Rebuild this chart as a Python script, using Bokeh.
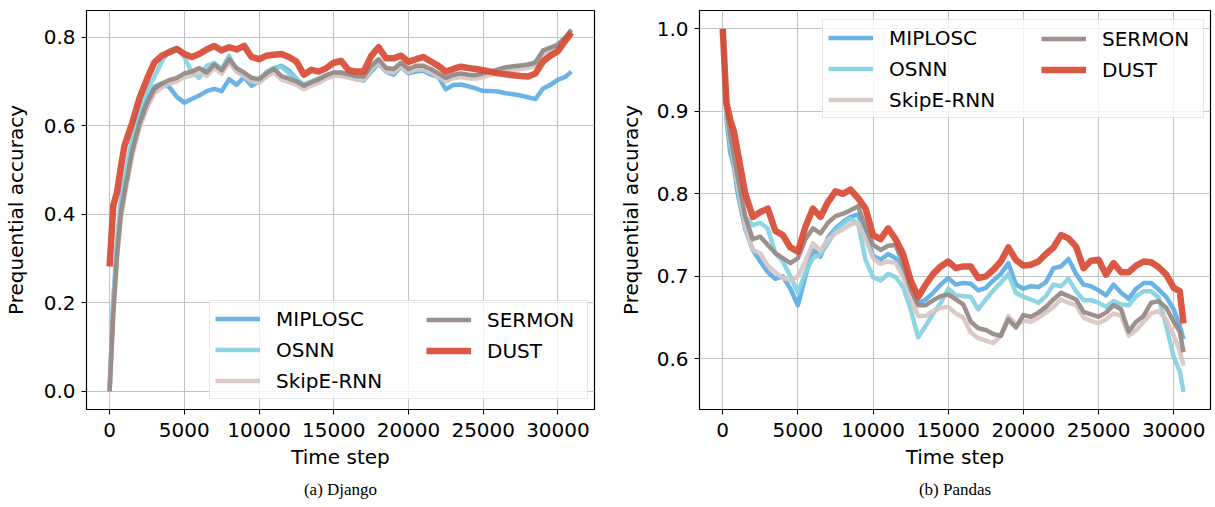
from bokeh.plotting import figure
from bokeh.models import Legend, LegendItem, FixedTicker, PrintfTickFormatter, Range1d, Title
from bokeh.layouts import row
from bokeh.embed import file_html
from bokeh.resources import INLINE

# ---------------- data ----------------
methods = ["MIPLOSC", "OSNN", "SkipE-RNN", "SERMON", "DUST"]
colors = ["#5dade2", "#85d2e3", "#d8c6c3", "#958884", "#d74a34"]

t_django = [0, 250, 500, 750, 1000, 1500, 2000, 2500, 3000, 3500, 4000, 4500, 5000,
            5500, 6000, 6500, 7000, 7500, 8000, 8500, 9000, 9500, 10000, 10500, 11000,
            11500, 12000, 12500, 13000, 13500, 14000, 14500, 15000, 15500, 16000, 16500,
            17000, 17500, 18000, 18500, 19000, 19500, 20000, 20500, 21000, 21500, 22000,
            22500, 23000, 23500, 24000, 24500, 25000, 25500, 26000, 26500, 27000, 27500,
            28000, 28500, 29000, 29500, 30000, 30500, 30900]

django_miplosc = [0.0, 0.20, 0.33, 0.42, 0.47, 0.555, 0.615, 0.66, 0.688, 0.695, 0.687, 0.665, 0.652,
                  0.660, 0.668, 0.678, 0.683, 0.678, 0.705, 0.692, 0.710, 0.690, 0.700, 0.720, 0.730,
                  0.735, 0.724, 0.706, 0.690, 0.697, 0.705, 0.712, 0.718, 0.714, 0.711, 0.705,
                  0.702, 0.722, 0.740, 0.722, 0.715, 0.733, 0.718, 0.722, 0.724, 0.715, 0.710,
                  0.682, 0.692, 0.693, 0.689, 0.684, 0.678, 0.678, 0.677, 0.673, 0.671, 0.668,
                  0.664, 0.660, 0.684, 0.692, 0.704, 0.710, 0.722]
django_osnn = [0.0, 0.21, 0.34, 0.43, 0.48, 0.57, 0.64, 0.68, 0.71, 0.745, 0.77, 0.775, 0.755,
               0.720, 0.708, 0.735, 0.742, 0.728, 0.758, 0.722, 0.712, 0.705, 0.698, 0.722, 0.730,
               0.733, 0.718, 0.705, 0.694, 0.700, 0.706, 0.714, 0.720, 0.718, 0.714, 0.708,
               0.706, 0.728, 0.745, 0.726, 0.722, 0.738, 0.724, 0.730, 0.730, 0.722, 0.714,
               0.704, 0.712, 0.716, 0.714, 0.712, 0.716, 0.720, 0.724, 0.728, 0.730, 0.733,
               0.736, 0.745, 0.765, 0.775, 0.785, 0.798, 0.812]
django_skipe = [0.0, 0.17, 0.30, 0.39, 0.44, 0.53, 0.595, 0.64, 0.673, 0.686, 0.695, 0.700, 0.710,
                0.713, 0.722, 0.712, 0.730, 0.717, 0.742, 0.722, 0.712, 0.700, 0.697, 0.710, 0.720,
                0.704, 0.698, 0.692, 0.682, 0.690, 0.697, 0.706, 0.712, 0.712, 0.708, 0.704,
                0.703, 0.727, 0.742, 0.722, 0.720, 0.734, 0.720, 0.727, 0.727, 0.720, 0.710,
                0.700, 0.707, 0.710, 0.707, 0.706, 0.710, 0.714, 0.719, 0.724, 0.726, 0.728,
                0.730, 0.735, 0.762, 0.768, 0.775, 0.792, 0.810]
django_sermon = [0.0, 0.18, 0.31, 0.40, 0.45, 0.54, 0.605, 0.65, 0.683, 0.695, 0.703, 0.708, 0.718,
                 0.722, 0.730, 0.720, 0.738, 0.725, 0.750, 0.730, 0.720, 0.708, 0.705, 0.718, 0.728,
                 0.712, 0.706, 0.700, 0.690, 0.698, 0.705, 0.714, 0.720, 0.720, 0.716, 0.712,
                 0.711, 0.735, 0.750, 0.730, 0.728, 0.742, 0.728, 0.735, 0.735, 0.728, 0.718,
                 0.708, 0.715, 0.718, 0.715, 0.714, 0.718, 0.722, 0.727, 0.732, 0.734, 0.736,
                 0.738, 0.742, 0.770, 0.776, 0.782, 0.800, 0.817]
django_dust = [0.282, 0.42, 0.45, 0.505, 0.555, 0.605, 0.662, 0.705, 0.743, 0.758, 0.766, 0.773, 0.762,
               0.755, 0.762, 0.772, 0.780, 0.770, 0.777, 0.772, 0.780, 0.755, 0.750, 0.758, 0.760,
               0.762, 0.755, 0.745, 0.715, 0.726, 0.722, 0.730, 0.742, 0.746, 0.725, 0.722,
               0.722, 0.757, 0.777, 0.752, 0.752, 0.758, 0.744, 0.750, 0.755, 0.745, 0.735,
               0.722, 0.728, 0.733, 0.730, 0.728, 0.725, 0.722, 0.718, 0.716, 0.714, 0.712,
               0.711, 0.718, 0.745, 0.758, 0.768, 0.792, 0.810]

t_pandas = [0, 250, 500, 750, 1000, 1500, 2000, 2500, 3000, 3500, 4000, 4500, 5000,
            5500, 6000, 6500, 7000, 7500, 8000, 8500, 9000, 9500, 10000, 10500, 11000,
            11500, 12000, 12500, 13000, 13500, 14000, 14500, 15000, 15500, 16000, 16500,
            17000, 17500, 18000, 18500, 19000, 19500, 20000, 20500, 21000, 21500, 22000,
            22500, 23000, 23500, 24000, 24500, 25000, 25500, 26000, 26500, 27000, 27500,
            28000, 28500, 29000, 29500, 30000, 30400, 30650]

pandas_miplosc = [1.0, 0.89, 0.85, 0.832, 0.80, 0.757, 0.732, 0.718, 0.705, 0.697, 0.700, 0.685, 0.665,
                  0.700, 0.732, 0.724, 0.747, 0.758, 0.766, 0.772, 0.775, 0.750, 0.725, 0.720, 0.727,
                  0.722, 0.705, 0.683, 0.667, 0.672, 0.680, 0.690, 0.698, 0.690, 0.692, 0.691,
                  0.683, 0.686, 0.695, 0.703, 0.716, 0.690, 0.685, 0.688, 0.687, 0.693, 0.710,
                  0.712, 0.721, 0.703, 0.690, 0.688, 0.683, 0.677, 0.690, 0.680, 0.673, 0.685,
                  0.692, 0.692, 0.684, 0.675, 0.660, 0.640, 0.624]
pandas_osnn = [1.0, 0.895, 0.86, 0.84, 0.81, 0.772, 0.762, 0.765, 0.758, 0.728, 0.718, 0.700, 0.680,
               0.705, 0.722, 0.727, 0.740, 0.755, 0.764, 0.770, 0.764, 0.720, 0.699, 0.695, 0.703,
               0.699, 0.687, 0.660, 0.626, 0.640, 0.655, 0.668, 0.685, 0.677, 0.676, 0.675,
               0.660, 0.672, 0.683, 0.692, 0.703, 0.680, 0.675, 0.672, 0.668, 0.676, 0.690,
               0.688, 0.697, 0.682, 0.671, 0.671, 0.668, 0.663, 0.670, 0.666, 0.665, 0.676,
               0.682, 0.682, 0.674, 0.640, 0.602, 0.585, 0.560]
pandas_skipe = [1.0, 0.90, 0.865, 0.84, 0.81, 0.76, 0.732, 0.728, 0.713, 0.705, 0.698, 0.695, 0.700,
                0.718, 0.740, 0.731, 0.745, 0.752, 0.757, 0.763, 0.765, 0.745, 0.722, 0.715, 0.718,
                0.716, 0.700, 0.673, 0.652, 0.652, 0.658, 0.662, 0.663, 0.655, 0.650, 0.632,
                0.625, 0.622, 0.619, 0.628, 0.652, 0.642, 0.646, 0.645, 0.650, 0.656, 0.663,
                0.672, 0.668, 0.665, 0.650, 0.646, 0.643, 0.648, 0.655, 0.652, 0.628, 0.635,
                0.645, 0.655, 0.658, 0.648, 0.628, 0.610, 0.592]
pandas_sermon = [1.0, 0.905, 0.87, 0.845, 0.82, 0.772, 0.745, 0.748, 0.738, 0.728, 0.722, 0.716, 0.722,
                 0.745, 0.758, 0.752, 0.765, 0.773, 0.776, 0.780, 0.785, 0.760, 0.738, 0.732, 0.737,
                 0.738, 0.715, 0.685, 0.665, 0.665, 0.671, 0.676, 0.678, 0.672, 0.666, 0.645,
                 0.637, 0.635, 0.630, 0.628, 0.648, 0.638, 0.653, 0.651, 0.656, 0.663, 0.672,
                 0.680, 0.676, 0.672, 0.657, 0.654, 0.651, 0.656, 0.665, 0.660, 0.633, 0.645,
                 0.652, 0.668, 0.670, 0.662, 0.645, 0.633, 0.608]
pandas_dust = [1.0, 0.91, 0.89, 0.875, 0.85, 0.80, 0.772, 0.778, 0.782, 0.755, 0.750, 0.735, 0.730,
               0.760, 0.782, 0.772, 0.790, 0.803, 0.800, 0.805, 0.795, 0.782, 0.750, 0.745, 0.758,
               0.745, 0.727, 0.695, 0.675, 0.690, 0.703, 0.712, 0.718, 0.710, 0.712, 0.712,
               0.698, 0.700, 0.708, 0.718, 0.735, 0.720, 0.713, 0.714, 0.718, 0.727, 0.735,
               0.750, 0.746, 0.736, 0.710, 0.719, 0.720, 0.702, 0.716, 0.705, 0.705, 0.713,
               0.718, 0.717, 0.711, 0.702, 0.686, 0.682, 0.643]

x_ticks = [0, 5000, 10000, 15000, 20000, 25000, 30000]
django_y_ticks = [0.0, 0.2, 0.4, 0.6, 0.8]
pandas_y_ticks = [0.6, 0.7, 0.8, 0.9, 1.0]

FONT = "DejaVu Sans"


def make_fig(t, series, y_ticks, y_range, caption, width, bl, br, leg1_loc, leg2_loc, lw1, ylab_standoff):
    p = figure(width=width, height=507, output_backend="svg", toolbar_location=None,
               x_range=Range1d(-1545, 32445), y_range=Range1d(*y_range),
               min_border_left=bl, min_border_right=br, min_border_top=10, min_border_bottom=98)
    p.background_fill_color = "white"
    p.border_fill_color = "white"
    p.outline_line_color = "black"
    p.outline_line_width = 1.2

    renderers = []
    for name, col, vals in zip(methods, colors, series):
        w = 6.5 if name == "DUST" else 4.5
        r = p.line(t, vals, line_color=col, line_width=w, line_alpha=0.92, line_join="round")
        renderers.append(r)

    p.xaxis.ticker = FixedTicker(ticks=x_ticks)
    p.xaxis.formatter = PrintfTickFormatter(format="%d")
    p.yaxis.ticker = FixedTicker(ticks=y_ticks)
    p.yaxis.formatter = PrintfTickFormatter(format="%.1f")
    for ax in (p.xaxis[0], p.yaxis[0]):
        ax.major_label_text_font = FONT
        ax.major_label_text_font_size = "20px"
        ax.major_label_text_color = "black"
        ax.axis_label_text_font = FONT
        ax.axis_label_text_font_size = "20px"
        ax.axis_label_text_font_style = "normal"
        ax.axis_label_text_color = "black"
        ax.axis_line_color = "black"
        ax.major_tick_line_color = "black"
        ax.major_tick_out = 5
        ax.major_tick_in = 0
        ax.minor_tick_line_color = None
    p.xaxis.major_label_standoff = 8
    p.yaxis.major_label_standoff = 6
    p.xaxis.axis_label = "Time step"
    p.yaxis.axis_label = "Prequential accuracy"
    p.xaxis.axis_label_standoff = 5
    p.yaxis.axis_label_standoff = ylab_standoff

    p.xgrid.ticker = FixedTicker(ticks=x_ticks)
    p.ygrid.ticker = FixedTicker(ticks=y_ticks)
    for g in (p.xgrid[0], p.ygrid[0]):
        g.grid_line_color = "#c4c4c4"
        g.grid_line_width = 1.1

    common = dict(label_text_font=FONT, label_text_font_size="20px", label_text_color="black",
                  glyph_width=45, glyph_height=25, label_height=25, label_standoff=16,
                  spacing=6, padding=5, margin=0)
    leg1 = Legend(items=[LegendItem(label=methods[i], renderers=[renderers[i]]) for i in range(3)],
                  location=leg1_loc, label_width=lw1,
                  border_line_color="#d0d0d0", border_line_width=1,
                  background_fill_color="white", background_fill_alpha=0.8, **common)
    leg2 = Legend(items=[LegendItem(label=methods[i], renderers=[renderers[i]]) for i in (3, 4)],
                  location=leg2_loc, border_line_alpha=0, background_fill_alpha=0, **common)
    p.add_layout(leg1)
    p.add_layout(leg2)

    cap = Title(text=caption, align="center", text_font="Liberation Serif",
                text_font_size="17px", text_font_style="normal", text_color="black",
                standoff=13)
    p.add_layout(cap, "below")
    return p


p1 = make_fig(t_django,
              [django_miplosc, django_osnn, django_skipe, django_sermon, django_dust],
              django_y_ticks, (-0.041, 0.860), "(a) Django",
              width=611, bl=83, br=17, leg1_loc=(123, 10), leg2_loc=(335, 41), lw1=306,
              ylab_standoff=13)
p2 = make_fig(t_pandas,
              [pandas_miplosc, pandas_osnn, pandas_skipe, pandas_sermon, pandas_dust],
              pandas_y_ticks, (0.5386, 1.0222), "(b) Pandas",
              width=603, bl=88, br=4, leg1_loc=(123, 291), leg2_loc=(337, 322), lw1=309,
              ylab_standoff=11)

layout = row(p1, p2)
open("out.html", "w").write(file_html(layout, INLINE))
